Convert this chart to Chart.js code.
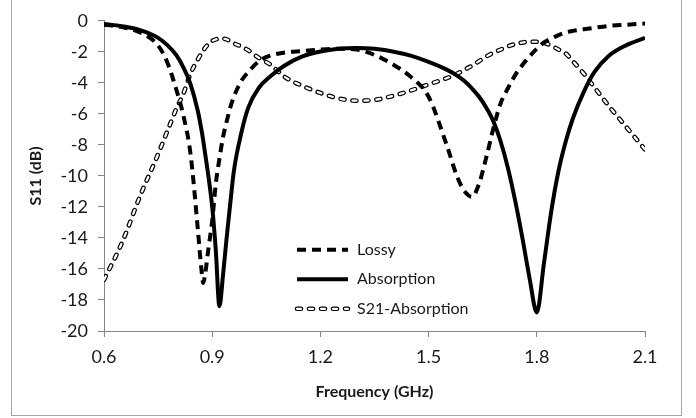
<!DOCTYPE html>
<html>
<head>
<meta charset="utf-8">
<script src="https://cdn.jsdelivr.net/npm/chart.js@4.4.0/dist/chart.umd.min.js"></script>
<style>
    html, body { margin: 0; padding: 0; background: #fff; }
    #wrap { position: relative; width: 696px; height: 418px; overflow: hidden; }
    #frame { position: absolute; left: 11px; top: -1px; width: 669px; height: 415px; border: 1px solid #a6a6a6; }
    canvas { position: absolute; left: 0; top: 0; }
</style>
</head>
<body>
<div id="wrap">
    <div id="frame"></div>
    <canvas id="chart-s11" width="696" height="418"></canvas>
</div>
<script>
// frequency samples (GHz)
const freqs = [0.6, 0.65, 0.7, 0.75, 0.775, 0.8, 0.82, 0.84, 0.86, 0.87, 0.875, 0.88, 0.89, 0.9, 0.91, 0.92, 0.93, 0.94, 0.95, 0.96, 0.98,
    1.0, 1.03, 1.06, 1.1, 1.15, 1.2, 1.25, 1.3, 1.35, 1.4, 1.45, 1.5, 1.55, 1.58, 1.6, 1.62, 1.64, 1.66, 1.68, 1.7,
    1.72, 1.74, 1.76, 1.78, 1.8, 1.82, 1.84, 1.86, 1.88, 1.9, 1.93, 1.96, 2.0, 2.05, 2.1];

const lossy = [-0.25, -0.4, -0.75, -1.6, -2.65, -4.4, -6.1, -8.6, -13.4, -16.0, -16.9, -16.4, -14.6, -12.9, -10.5, -8.9, -7.5, -6.5, -5.6, -4.9, -3.9,
    -3.3, -2.6, -2.25, -2.05, -1.95, -1.85, -1.8, -1.85, -2.2, -2.8, -3.6, -4.9, -8.0, -10.1, -11.0, -11.35, -10.5, -8.8, -6.9, -5.3,
    -4.35, -3.5, -2.85, -2.3, -1.8, -1.4, -1.15, -0.92, -0.75, -0.65, -0.55, -0.45, -0.33, -0.25, -0.18];

const absorption = [-0.2, -0.35, -0.6, -1.1, -1.55, -2.2, -3.0, -4.1, -5.8, -7.0, -7.7, -8.5, -10.1, -12.0, -14.8, -18.4, -16.4, -14.0, -11.8, -9.7, -7.3,
    -5.6, -4.3, -3.6, -2.9, -2.3, -1.98, -1.8, -1.75, -1.8, -1.98, -2.25, -2.65, -3.15, -3.55, -3.9, -4.35, -4.9, -5.6, -6.5, -7.8,
    -9.5, -11.6, -14.0, -16.6, -18.8, -15.6, -12.3, -9.7, -7.8, -6.3, -4.6, -3.3, -2.25, -1.55, -1.1];

const s21Absorption = [-16.7, -14.3, -11.3, -8.6, -7.15, -5.7, -4.7, -3.4, -2.5, -2.1, -1.95, -1.75, -1.5, -1.3, -1.2, -1.15, -1.15, -1.2, -1.3, -1.45, -1.65,
    -1.9, -2.4, -2.8, -3.6, -4.2, -4.65, -5.0, -5.15, -5.1, -4.85, -4.5, -4.1, -3.7, -3.4, -3.15, -2.9, -2.6, -2.3, -2.05, -1.85,
    -1.65, -1.5, -1.4, -1.35, -1.35, -1.42, -1.6, -1.85, -2.1, -2.6, -3.4, -4.3, -5.5, -6.9, -8.3];

const seriesNames = ['Lossy', 'Absorption', 'S21-Absorption'];
const xTicks = [0.6, 0.9, 1.2, 1.5, 1.8, 2.1];
const yTicks = [0, -2, -4, -6, -8, -10, -12, -14, -16, -18, -20];

const toPoints = vals => freqs.map((f, i) => ({ x: f, y: vals[i] }));
const FONT = 'Lato, "Open Sans", sans-serif';

// legend drawn inside the plot area
const insideLegend = {
    id: 'insideLegend',
    afterDatasetsDraw(chart) {
        const { ctx, chartArea } = chart;
        const items = chart.data.datasets.filter(d => d.label);
        const order = seriesNames.map(n => items.find(d => d.label === n));
        const x0 = chartArea.left + 193;
        const x1 = x0 + 51;
        order.forEach((ds, i) => {
            const y = chartArea.top + 229 + i * 29.5;
            ctx.save();
            ctx.beginPath();
            ctx.moveTo(x0, y);
            ctx.lineTo(x1, y);
            ctx.strokeStyle = ds.borderColor;
            ctx.lineWidth = ds.borderWidth;
            ctx.lineCap = ds.borderCapStyle || 'butt';
            ctx.setLineDash(ds.borderDash || []);
            ctx.stroke();
            if (ds.inner) {
                ctx.strokeStyle = ds.inner.color;
                ctx.lineWidth = ds.inner.width;
                ctx.stroke();
            }
            ctx.restore();
            ctx.save();
            ctx.fillStyle = '#1a1a1a';
            ctx.font = '16px ' + FONT;
            ctx.textBaseline = 'middle';
            ctx.fillText(ds.label, x1 + 9, y);
            ctx.restore();
        });
    }
};

const ctx = document.getElementById('chart-s11').getContext('2d');
new Chart(ctx, {
    type: 'line',
    data: {
        datasets: [
            {
                label: 'Lossy',
                data: toPoints(lossy),
                borderColor: '#000',
                borderWidth: 4,
                borderDash: [9, 6],
                pointRadius: 0,
                cubicInterpolationMode: 'monotone'
            },
            {
                label: 'Absorption',
                data: toPoints(absorption),
                borderColor: '#000',
                borderWidth: 4,
                pointRadius: 0,
                cubicInterpolationMode: 'monotone'
            },
            {
                data: toPoints(s21Absorption),
                borderColor: '#fff',
                borderWidth: 2.2,
                borderDash: [4, 8],
                borderCapStyle: 'round',
                pointRadius: 0,
                cubicInterpolationMode: 'monotone'
            },
            {
                label: 'S21-Absorption',
                data: toPoints(s21Absorption),
                borderColor: '#000',
                borderWidth: 4.6,
                borderDash: [4, 8],
                borderCapStyle: 'round',
                inner: { color: '#fff', width: 2.2 },
                pointRadius: 0,
                cubicInterpolationMode: 'monotone'
            }
        ]
    },
    options: {
        responsive: false,
        animation: false,
        devicePixelRatio: 1,
        layout: { padding: { left: 0, top: 19, right: 51, bottom: 0 } },
        plugins: {
            legend: { display: false },
            tooltip: { enabled: false }
        },
        scales: {
            x: {
                type: 'linear',
                min: 0.6,
                max: 2.1,
                afterBuildTicks: scale => { scale.ticks = xTicks.map(v => ({ value: v })); },
                afterFit: scale => { scale.height = 87; },
                ticks: {
                    color: '#1a1a1a',
                    font: { family: FONT, size: 18 },
                    padding: 9,
                    maxRotation: 0,
                    callback: v => v.toFixed(1)
                },
                grid: { drawOnChartArea: false, tickLength: 6, color: '#868686' },
                border: { color: '#868686' },
                title: {
                    display: true,
                    text: 'Frequency (GHz)',
                    color: '#1a1a1a',
                    font: { family: FONT, size: 16, weight: 'bold' },
                    padding: { top: 0, bottom: 17 }
                }
            },
            y: {
                min: -20,
                max: 0,
                afterBuildTicks: scale => { scale.ticks = yTicks.map(v => ({ value: v })); },
                afterFit: scale => { scale.width = 104; },
                ticks: {
                    color: '#1a1a1a',
                    font: { family: FONT, size: 18 },
                    padding: 10
                },
                grid: { drawOnChartArea: false, tickLength: 6, color: '#868686' },
                border: { color: '#868686' },
                title: {
                    display: true,
                    text: 'S11 (dB)',
                    color: '#1a1a1a',
                    font: { family: FONT, size: 16, weight: 'bold' },
                    padding: { top: 26, bottom: 0 }
                }
            }
        }
    },
    plugins: [insideLegend]
});
</script>
</body>
</html>
